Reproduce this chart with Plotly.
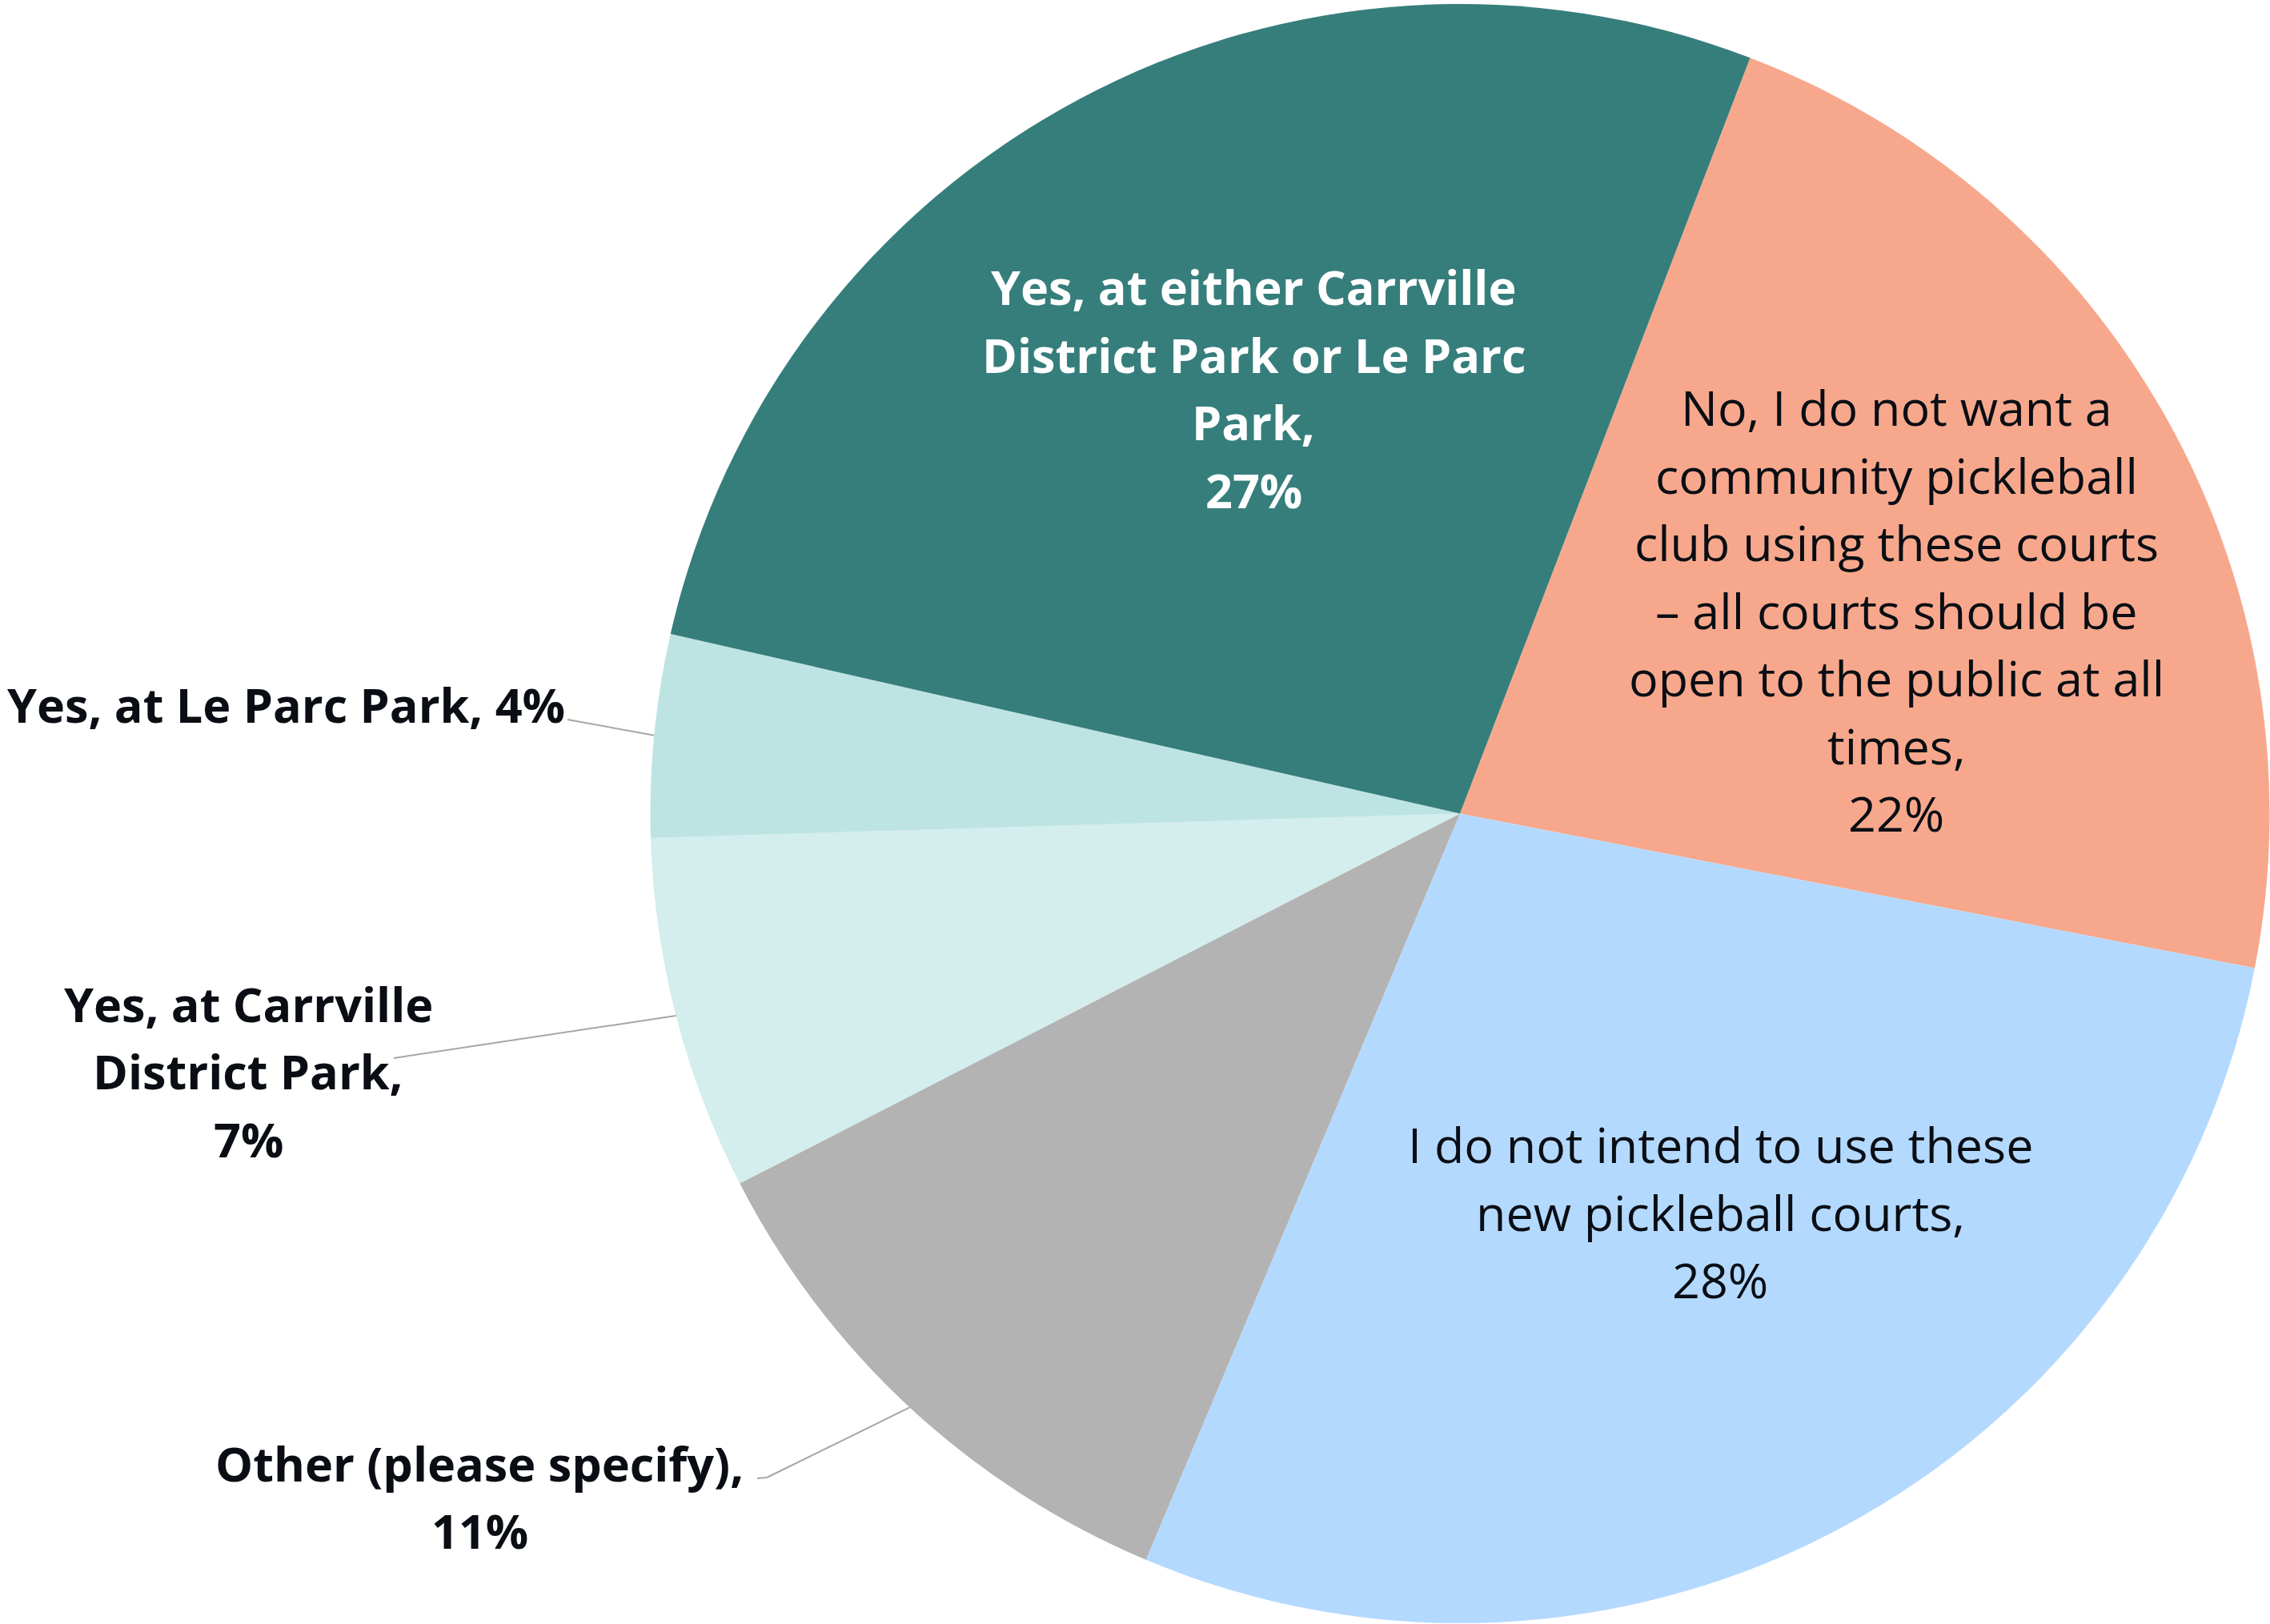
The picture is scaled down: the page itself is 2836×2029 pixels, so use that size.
import math
import plotly.graph_objects as go

# Survey responses, in clockwise order starting just right of 12 o'clock
categories = [
    "No, I do not want a community pickleball club using these courts – all courts should be open to the public at all times",
    "I do not intend to use these new pickleball courts",
    "Other (please specify)",
    "Yes, at Carrville District Park",
    "Yes, at Le Parc Park",
    "Yes, at either Carrville District Park or Le Parc Park",
]
shares = [22, 28, 11, 7, 4, 27]

# Label text as wrapped on the chart (category part; percentage appended below)
label_lines = [
    ["No, I do not want a", "community pickleball", "club using these courts",
     "– all courts should be", "open to the public at all", "times,"],
    ["I do not intend to use these", "new pickleball courts,"],
    ["Other (please specify),"],
    ["Yes, at Carrville", "District Park,"],
    ["Yes, at Le Parc Park,"],
    ["Yes, at either Carrville", "District Park or Le Parc", "Park,"],
]

colors = ["#F7A88C", "#B4D9FE", "#B3B3B3", "#D4EDED", "#BDE4E3", "#367E7C"]

W, H = 2836, 2029
ROTATION = 21
LINE_PITCH = 84.5          # px between text lines
SIZE_REGULAR = 61
SIZE_BOLD = 59.3
TEXT_DARK = "#0A0E14"

# Pie placement in pixels (left, top, right, bottom)
PIE_BOX = (812, 5, 2836, 2028)
dom_x = [PIE_BOX[0] / W, PIE_BOX[2] / W]
dom_y = [1 - PIE_BOX[3] / H, 1 - PIE_BOX[1] / H]
cx = (PIE_BOX[0] + PIE_BOX[2]) / 2
cy = (PIE_BOX[1] + PIE_BOX[3]) / 2
radius = min(PIE_BOX[2] - PIE_BOX[0], PIE_BOX[3] - PIE_BOX[1]) / 2

total = sum(shares)

# label block centre (px), weight, colour and leader-line start points (px)
label_style = [
    dict(x=2369, y=762, bold=False, color=TEXT_DARK, lead=None, inline_pct=False),
    dict(x=2149, y=1514, bold=False, color=TEXT_DARK, lead=None, inline_pct=False),
    dict(x=599, y=1870, bold=True, color=TEXT_DARK, lead=[(946, 1847), (958, 1846)], inline_pct=False),
    dict(x=310, y=1338, bold=True, color=TEXT_DARK, lead=[(492, 1322)], inline_pct=False),
    dict(x=357, y=880, bold=True, color=TEXT_DARK, lead=[(709, 899)], inline_pct=True),
    dict(x=1566, y=485, bold=True, color="#FFFFFF", lead=None, inline_pct=False),
]

fig = go.Figure(
    go.Pie(
        labels=categories,
        values=shares,
        sort=False,
        direction="clockwise",
        rotation=ROTATION,
        marker=dict(colors=colors, line=dict(width=0)),
        textinfo="none",
        hoverinfo="label+percent",
        domain=dict(x=dom_x, y=dom_y),
        showlegend=False,
    )
)

annotations = []
shapes = []
cum = 0
for lines, v, st in zip(label_lines, shares, label_style):
    pct = f"{round(100 * v / total)}%"
    if st["inline_pct"]:
        text_lines = lines[:-1] + [lines[-1] + " " + pct]
    else:
        text_lines = list(lines) + [pct]
    n = len(text_lines)
    for k, line in enumerate(text_lines):
        y_px = st["y"] + (k - (n - 1) / 2) * LINE_PITCH
        annotations.append(
            dict(
                x=st["x"] / W, y=1 - y_px / H, xref="paper", yref="paper",
                text=f"<b>{line}</b>" if st["bold"] else line,
                showarrow=False, xanchor="center", yanchor="middle",
                font=dict(
                    family="Open Sans",
                    size=SIZE_BOLD if st["bold"] else SIZE_REGULAR,
                    color=st["color"],
                ),
            )
        )
    # leader line from label to the rim at the slice's middle angle
    mid = math.radians(ROTATION + 360 * (cum + v / 2) / total)
    rim = (cx + radius * math.sin(mid), cy - radius * math.cos(mid))
    if st["lead"]:
        pts = list(st["lead"]) + [rim]
        for (x0, y0), (x1, y1) in zip(pts[:-1], pts[1:]):
            shapes.append(
                dict(
                    type="line", xref="paper", yref="paper",
                    x0=x0 / W, y0=1 - y0 / H, x1=x1 / W, y1=1 - y1 / H,
                    line=dict(color="#A6A6A6", width=2),
                )
            )
    cum += v

fig.update_layout(
    width=W,
    height=H,
    margin=dict(l=0, r=0, t=0, b=0),
    paper_bgcolor="white",
    plot_bgcolor="white",
    annotations=annotations,
    shapes=shapes,
    font=dict(family="Open Sans"),
)

fig.write_html("out.html")
